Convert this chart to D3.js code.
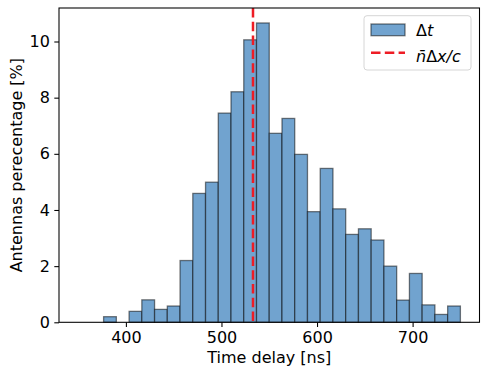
<!DOCTYPE html>
<html>
<head>
<meta charset="utf-8">
<script src="https://cdn.jsdelivr.net/npm/d3@7"></script>
<style>
body{margin:0;background:#fff;}
text{font-family:"DejaVu Sans",sans-serif;fill:#000;}
</style>
</head>
<body>
<script>
// histogram bins: 30 bins of 400/30 ns between 350 and 750
var binStart = 350, binEnd = 750, nBins = 30;
var percentages = [0, 0, 0.2, 0, 0.39, 0.8, 0.46, 0.58, 2.2, 4.59,
  4.99, 7.45, 8.21, 10.06, 10.66, 6.73, 7.26, 5.98, 3.94, 5.48,
  4.04, 3.13, 3.33, 2.93, 2.0, 0.79, 1.74, 0.62, 0.28, 0.58];
var xTicks = [400, 500, 600, 700];
var yTicks = [0, 2, 4, 6, 8, 10];
var meanDelay = 533;

var W = 488, H = 376;
var margin = {left:59, right:8.5, top:8, bottom:53.7};

var svg = d3.select("body").append("svg")
  .attr("width", W).attr("height", H);

var span = binEnd - binStart;
var x = d3.scaleLinear()
  .domain([binStart - 0.05*span, binEnd + 0.05*span])
  .range([margin.left, W - margin.right]);
var y = d3.scaleLinear()
  .domain([0, d3.max(percentages)*1.05])
  .range([H - margin.bottom, margin.top]);

var binW = span / nBins;
var bins = percentages.map(function(p, i){
  return {x0: binStart + i*binW, x1: binStart + (i+1)*binW, v: p};
});

//bars
svg.append("g").selectAll("rect")
  .data(bins).enter().append("rect")
  .attr("x", function(d){ return x(d.x0); })
  .attr("y", function(d){ return y(d.v); })
  .attr("width", function(d){ return x(d.x1) - x(d.x0); })
  .attr("height", function(d){ return y(0) - y(d.v); })
  .attr("fill", "#71a3cf")
  .attr("stroke", "#000")
  .attr("stroke-opacity", 0.5)
  .attr("stroke-width", 1.3);

// mean line
svg.append("line")
  .attr("x1", x(meanDelay)).attr("x2", x(meanDelay))
  .attr("y1", y.range()[1]).attr("y2", y.range()[0])
  .attr("stroke", "#ee1c25")
  .attr("stroke-width", 2.5)
  .attr("stroke-dasharray", "9.5,4.3");

// axes
var xAxis = svg.append("g")
  .attr("transform", "translate(0," + y(0) + ")")
  .call(d3.axisBottom(x).tickValues(xTicks).tickSize(4.7).tickPadding(4.5));
var yAxis = svg.append("g")
  .attr("transform", "translate(" + margin.left + ",0)")
  .call(d3.axisLeft(y).tickValues(yTicks).tickSize(4.7).tickPadding(4.5));
[xAxis, yAxis].forEach(function(a){
  a.select(".domain").remove();
  a.selectAll("line").attr("stroke", "#000").attr("stroke-width", 1.07);
  a.selectAll("text").style("font-size", "16px").attr("fill", "#000");
});

// frame
svg.append("rect")
  .attr("x", margin.left).attr("y", margin.top)
  .attr("width", W - margin.left - margin.right)
  .attr("height", H - margin.top - margin.bottom)
  .attr("fill", "none").attr("stroke", "#000").attr("stroke-width", 1.07);

// labels
svg.append("text")
  .attr("x", (x.range()[0] + x.range()[1])/2).attr("y", 363)
  .attr("text-anchor", "middle").style("font-size", "16px")
  .text("Time delay [ns]");
svg.append("text")
  .attr("transform", "translate(22," + ((y.range()[0] + y.range()[1])/2) + ") rotate(-90)")
  .attr("text-anchor", "middle").style("font-size", "16px")
  .text("Antennas perecentage [%]");

// legend
var lg = svg.append("g");
lg.append("rect")
  .attr("x", 364).attr("y", 15.7).attr("width", 107).attr("height", 54.3)
  .attr("rx", 3).attr("fill", "#fff").attr("fill-opacity", 0.8)
  .attr("stroke", "#d6d6d6").attr("stroke-width", 1);
lg.append("rect")
  .attr("x", 371).attr("y", 24).attr("width", 34).attr("height", 11.7)
  .attr("fill", "#71a3cf").attr("stroke", "#000").attr("stroke-opacity", 0.5).attr("stroke-width", 1.3);
lg.append("line")
  .attr("x1", 371).attr("x2", 405).attr("y1", 52.7).attr("y2", 52.7)
  .attr("stroke", "#ee1c25").attr("stroke-width", 2.5).attr("stroke-dasharray", "9.5,4.3");
var t1 = lg.append("text").attr("x", 416).attr("y", 35.5).style("font-size", "16px");
t1.append("tspan").text("Δ");
t1.append("tspan").style("font-style", "italic").text("t");
var t2 = lg.append("text").attr("x", 416).attr("y", 62).style("font-size", "16px");
t2.append("tspan").style("font-style", "italic").text("n̄");
t2.append("tspan").text("Δ");
t2.append("tspan").style("font-style", "italic").text("x/c");
</script>
</body>
</html>
